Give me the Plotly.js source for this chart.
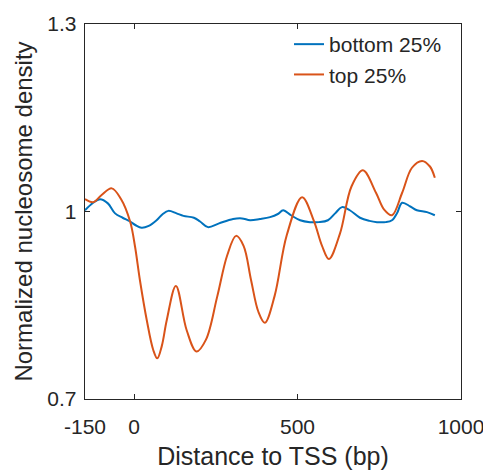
<!DOCTYPE html>
<html>
<head>
<meta charset="utf-8">
<script src="https://cdn.plot.ly/plotly-3.0.1.min.js"></script>
<style>html,body{margin:0;padding:0;background:#fff;}</style>
</head>
<body>
<div id="chart" style="width:483px;height:470px;"></div>
<script>
// Data
const bottomX = [-150, -125, -104, -80, -58, -35, -12, 5, 23, 45, 69, 88, 105, 130, 151, 183, 202, 226, 260, 303, 330, 355, 385, 416, 440, 456, 480, 508, 538, 565, 593, 615, 636, 660, 691, 720, 743, 770, 789, 805, 820, 845, 865, 896, 920];
const bottomY = [1.002, 1.014, 1.0195, 1.013, 0.997, 0.99, 0.984, 0.978, 0.974, 0.977, 0.986, 0.996, 1.001, 0.997, 0.993, 0.99, 0.984, 0.975, 0.981, 0.988, 0.989, 0.986, 0.988, 0.991, 0.996, 1.002, 0.994, 0.986, 0.983, 0.983, 0.986, 0.997, 1.007, 1.002, 0.99, 0.985, 0.983, 0.983, 0.986, 0.998, 1.014, 1.008, 1.002, 0.999, 0.994];

const topX = [-150, -125, -100, -68, -40, -12, 3, 18, 39, 59, 71, 85, 100, 128, 161, 191, 220, 254, 285, 312, 335, 358, 380, 400, 430, 467, 514, 550, 575, 596, 630, 665, 700, 740, 765, 789, 820, 850, 881, 905, 920];
const topY = [1.020, 1.015, 1.026, 1.037, 1.020, 0.984, 0.944, 0.890, 0.826, 0.778, 0.765, 0.785, 0.826, 0.881, 0.810, 0.776, 0.795, 0.863, 0.930, 0.961, 0.945, 0.890, 0.840, 0.822, 0.865, 0.962, 1.023, 0.985, 0.945, 0.924, 0.965, 1.040, 1.066, 1.030, 1.003, 0.994, 1.030, 1.070, 1.081, 1.072, 1.054];

const xTicks = [-150, 0, 500, 1000];
const xTickText = ['-150', '0', '500', '1000'];
const yTicks = [0.7, 1, 1.3];
const yTickText = ['0.7', '1', '1.3'];

const font = 'Liberation Sans, Arial, Helvetica, sans-serif';
const txt = '#262626';

const traces = [
  {x: bottomX, y: bottomY, name: 'bottom 25%', type: 'scatter', mode: 'lines',
   line: {color: '#0072BD', width: 2, shape: 'spline', smoothing: 1}},
  {x: topX, y: topY, name: 'top 25%', type: 'scatter', mode: 'lines',
   line: {color: '#D95319', width: 2, shape: 'spline', smoothing: 1}}
];

const layout = {
  width: 483, height: 470,
  margin: {l: 85, r: 22, t: 24, b: 71},
  paper_bgcolor: '#fff', plot_bgcolor: '#fff',
  font: {family: font, color: txt, size: 21},
  showlegend: true,
  legend: {x: 0.5426, y: 1.0, xanchor: 'left', yanchor: 'top', bgcolor: 'rgba(0,0,0,0)',
           font: {family: font, size: 21, color: txt}, tracegroupgap: 0, itemwidth: 30},
  xaxis: {
    range: [-150, 1000], tickvals: xTicks, ticktext: xTickText, ticks: 'inside', ticklen: 5, tickcolor: txt,
    showline: true, linecolor: txt, linewidth: 1.3, mirror: 'ticks',
    showgrid: false, zeroline: false, ticklabeloverflow: 'allow', ticklabelstandoff: 8,
    tickfont: {family: font, size: 21, color: txt},
    title: {text: 'Distance to TSS (bp)', font: {family: font, size: 25, color: txt}, standoff: 12},
    automargin: false
  },
  yaxis: {
    range: [0.7, 1.3], tickvals: yTicks, ticktext: yTickText, ticks: 'inside', ticklen: 5, tickcolor: txt,
    showline: true, linecolor: txt, linewidth: 1.3, mirror: 'ticks',
    showgrid: false, zeroline: false, ticklabelstandoff: 3,
    tickfont: {family: font, size: 21, color: txt},
    title: {text: 'Normalized nucleosome density', font: {family: font, size: 24, color: txt}, standoff: 8},
    automargin: false
  }
};

Plotly.newPlot('chart', traces, layout, {displayModeBar: false, staticPlot: true});
</script>
</body>
</html>
